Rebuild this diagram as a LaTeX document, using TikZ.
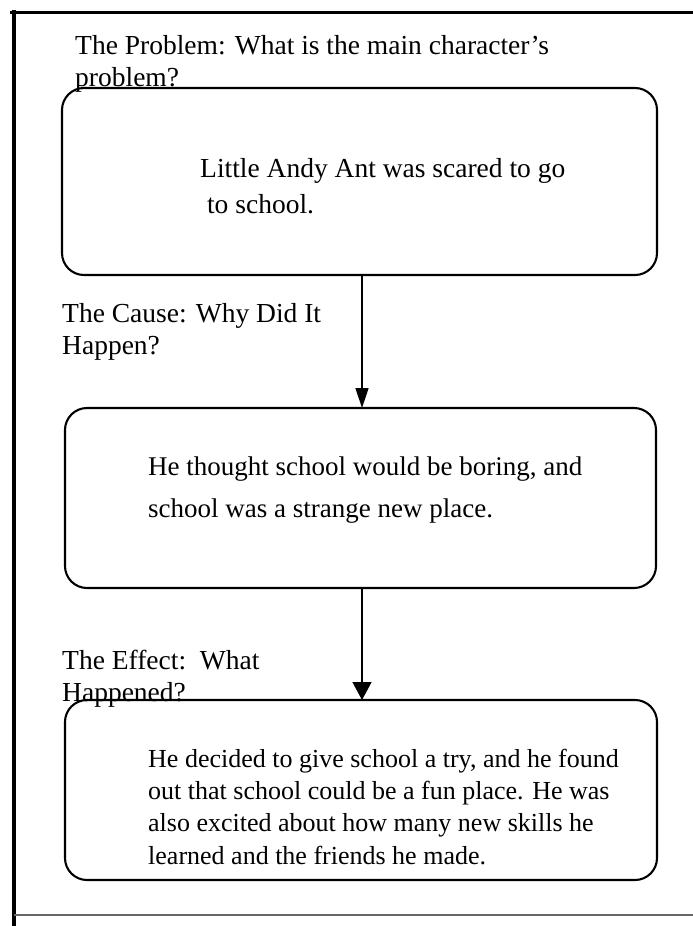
\documentclass[tikz,border=0pt]{standalone}
\usepackage{fontspec}
\setmainfont{Liberation Serif}
\usetikzlibrary{arrows.meta}
\begin{document}
\begin{tikzpicture}[x=1pt,y=-1pt,
  box/.style={draw, line width=2.1pt, rounded corners=22pt},
  lbl/.style={anchor=base west, inner sep=0pt, align=left, font=\fontsize{27.5}{32}\selectfont},
  txt/.style={anchor=base west, inner sep=0pt, align=left},
  link/.style={line width=1.5pt}]
\useasboundingbox (0,0) rectangle (693,926);
% frame
\draw[line width=3pt] (10,12) -- (693,12);
\draw[line width=4pt] (14,10) -- (14,926);
\draw[line width=1.5pt, black!60] (14,915) -- (693,915);
% boxes
\draw[box] (62,88) rectangle (657,275);
\coordinate (b1s) at (362,275);
\draw[box] (65,408) rectangle (656,588);
\coordinate (b2n) at (362,408);
\coordinate (b2s) at (362,588);
\draw[box] (65,700) rectangle (657,880);
\coordinate (b3n) at (362,700);
% labels (anchor = baseline of last line)
\node[lbl] (l1) at (75,86) {The Problem: What is the main character’s\\problem?};
\node[lbl] (l2) at (62,354) {The Cause: Why Did It\\Happen?};
\node[lbl] (l3) at (62,701) {The Effect:\ \ What\\Happened?};
% box texts
\node[txt, font=\fontsize{27.5}{36}\selectfont] (t1) at (200,213) {Little Andy Ant was scared to go\\\ to school.};
\node[txt, font=\fontsize{27}{42}\selectfont] (t2) at (148,517) {He thought school would be boring, and\\school was a strange new place.};
\node[txt, font=\fontsize{26}{32.3}\selectfont] (t3) at (148,864) {He decided to give school a try, and he found\\out that school could be a fun place. He was\\also excited about how many new skills he\\learned and the friends he made.};
% arrows
\draw[link, -{Triangle[width=13pt,length=20pt]}] (b1s) -- (b2n);
\draw[link, -{Triangle[width=19pt,length=18pt]}] (b2s) -- (b3n);
\end{tikzpicture}
\end{document}
